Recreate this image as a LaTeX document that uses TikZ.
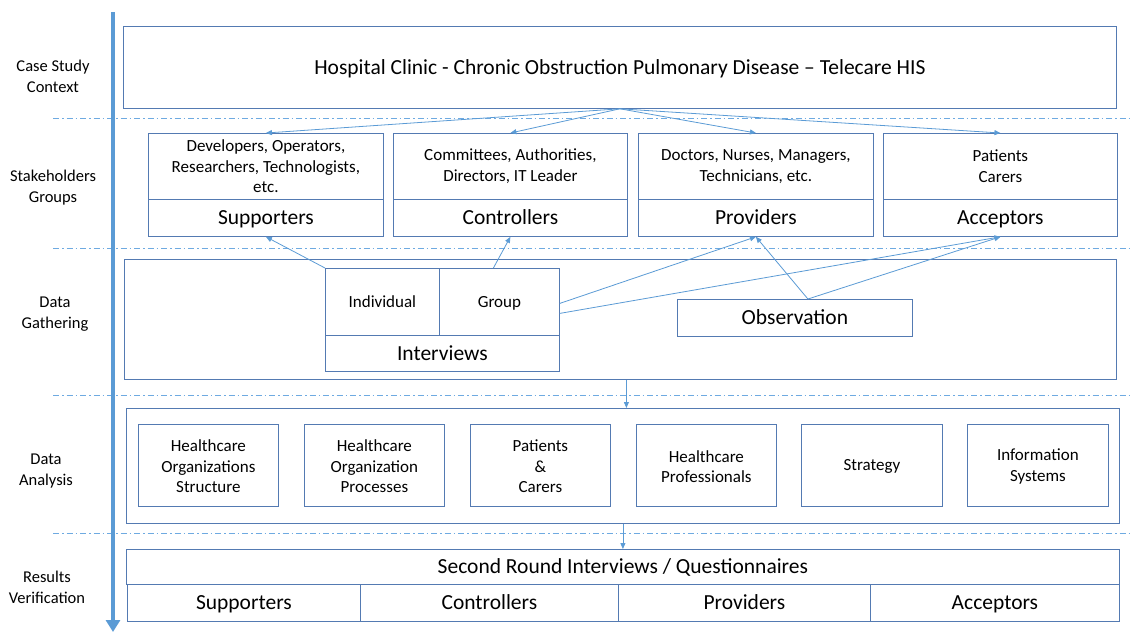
\documentclass[tikz,border=0pt]{standalone}
\usepackage{fontspec}
\setmainfont{Carlito}
\usetikzlibrary{arrows.meta}
\definecolor{boxc}{RGB}{84,122,178}
\definecolor{arrc}{RGB}{91,155,213}
\definecolor{sepc}{RGB}{110,170,225}
\begin{document}
\begin{tikzpicture}[x=1pt,y=-1pt,
  box/.style={draw=boxc,line width=0.8pt,fill=white,inner sep=0pt,align=center,anchor=north west},
  small/.style={font=\fontsize{17}{20.5}\selectfont},
  smallone/.style={font=\fontsize{17}{20.5}\selectfont,text height=15pt,text depth=4pt},
  big/.style={font=\fontsize{21.5}{25}\selectfont,text height=18.8pt,text depth=5pt},
  lab/.style={align=center,font=\fontsize{16.5}{21}\selectfont},
  arr/.style={draw=arrc,line width=0.8pt,-{Triangle[width=5pt,length=6pt]}},
  sepline/.style={draw=sepc,line width=0.8pt,dash pattern=on 6pt off 3pt on 1.5pt off 3pt},
  axisline/.style={draw=arrc,line width=3.2pt,-{Triangle[width=14pt,length=12pt]}}]
\useasboundingbox (0,0) rectangle (1131,632);

% separators
\foreach \yy in {118,248,395,533}{\draw[sepline] (53,\yy) -- (1131,\yy);}

% axis
\coordinate (axtop) at (113,12);
\coordinate (axbot) at (113,632);
\draw[axisline] (axtop) -- (axbot);

% left labels
\node[lab] (l1) at (53,76) {Case Study\\Context};
\node[lab] (l2) at (53,188) {Stakeholders\\Groups};
\node[lab] (l3) at (55,314) {Data\\Gathering};
\node[lab] (l4) at (46,471) {Data\\Analysis};
\node[lab] (l5) at (47,587) {Results\\Verification};

% case study
\node[box,big,minimum width=993pt,minimum height=82pt] (hosp) at (123,26) {Hospital Clinic - Chronic Obstruction Pulmonary Disease -- Telecare HIS};

% stakeholders
\node[box,small,minimum width=235pt,minimum height=66pt] (supd) at (148,133) {Developers, Operators,\\Researchers, Technologists,\\etc.};
\node[box,big,minimum width=235pt,minimum height=37pt] (supn) at (148,199) {Supporters};
\node[box,small,minimum width=234pt,minimum height=66pt] (cond) at (393,133) {Committees, Authorities,\\Directors, IT Leader};
\node[box,big,minimum width=234pt,minimum height=37pt] (conn) at (393,199) {Controllers};
\node[box,small,minimum width=235pt,minimum height=66pt] (prod) at (638,133) {Doctors, Nurses, Managers,\\Technicians, etc.};
\node[box,big,minimum width=235pt,minimum height=37pt] (pron) at (638,199) {Providers};
\node[box,small,minimum width=234pt,minimum height=66pt] (accd) at (883,133) {Patients\\Carers};
\node[box,big,minimum width=234pt,minimum height=37pt] (accn) at (883,199) {Acceptors};

% data gathering
\node[box,minimum width=992pt,minimum height=120pt] (gath) at (124,259) {};
\node[box,smallone,minimum width=114pt,minimum height=67pt] (ind) at (325,268) {Individual};
\node[box,smallone,minimum width=120pt,minimum height=67pt] (grp) at (439,268) {Group};
\node[box,big,minimum width=234pt,minimum height=36pt] (intv) at (325,335) {Interviews};
\node[box,big,minimum width=235pt,minimum height=37pt] (obs) at (677,299) {Observation};

% data analysis
\node[box,minimum width=993pt,minimum height=115pt] (ana) at (126,408) {};
\node[box,small,minimum width=140pt,minimum height=82pt] (a1) at (138,424) {\rule{0pt}{14pt}Healthcare\\Organizations\\Structure};
\node[box,small,minimum width=140pt,minimum height=82pt] (a2) at (304,424) {\rule{0pt}{14pt}Healthcare\\Organization\\Processes};
\node[box,small,minimum width=140pt,minimum height=82pt] (a3) at (470,424) {\rule{0pt}{14pt}Patients\\\&\\Carers};
\node[box,small,minimum width=140pt,minimum height=82pt] (a4) at (636,424) {\rule{0pt}{14pt}Healthcare\\Professionals};
\node[box,smallone,minimum width=141pt,minimum height=82pt] (a5) at (801,424) {Strategy};
\node[box,small,minimum width=141pt,minimum height=82pt] (a6) at (967,424) {\rule{0pt}{14pt}Information\\Systems};

% results verification
\node[box,big,minimum width=993pt,minimum height=35pt] (sr) at (126,549) {Second Round Interviews / Questionnaires};
\node[box,big,minimum width=233pt,minimum height=37pt] (r1) at (127,584) {Supporters};
\node[box,big,minimum width=258pt,minimum height=37pt] (r2) at (360,584) {Controllers};
\node[box,big,minimum width=252pt,minimum height=37pt] (r3) at (618,584) {Providers};
\node[box,big,minimum width=249pt,minimum height=37pt] (r4) at (870,584) {Acceptors};

% arrows from case study
\draw[arr] (hosp.south) -- (supd.north);
\draw[arr] (hosp.south) -- (cond.north);
\draw[arr] (hosp.south) -- (prod.north);
\draw[arr] (hosp.south) -- (accd.north);

% arrows from data gathering
\draw[arr] (ind.north west) -- (supn.south);
\draw[arr] ([xshift=-6pt]grp.north) -- (conn.south);
\draw[arr] ([yshift=-1.5pt]grp.east) -- (pron.south);
\draw[arr] ([yshift=-11.5pt]grp.east) -- (accn.south);
\draw[arr] ([xshift=13pt]obs.north) -- (pron.south);
\draw[arr] ([xshift=13pt]obs.north) -- (accn.south);

% flow arrows
\draw[arr] ([xshift=3.5pt]ana.north |- gath.south) -- ([xshift=3.5pt]ana.north);
\draw[arr] (ana.south) -- (sr.north);
\end{tikzpicture}
\end{document}
